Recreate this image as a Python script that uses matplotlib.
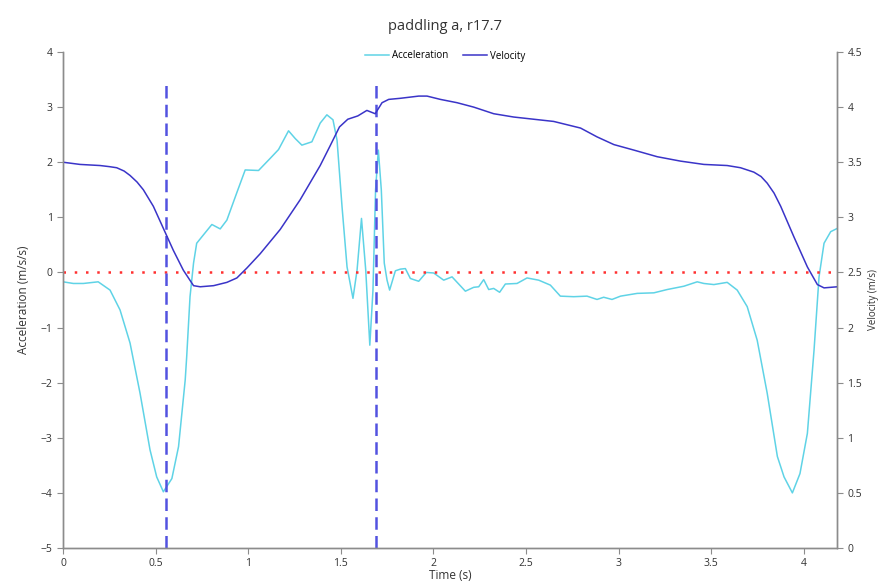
import matplotlib
matplotlib.use("Agg")
import matplotlib.pyplot as plt

# acceleration trace (m/s/s)
acc_t = [0.00, 0.056, 0.11, 0.19, 0.254, 0.308, 0.362, 0.416, 0.47, 0.506,
         0.542, 0.588, 0.624, 0.66, 0.668, 0.686, 0.705, 0.722, 0.758, 0.804,
         0.849, 0.885, 0.939, 0.984, 1.056, 1.119, 1.164, 1.218, 1.254, 1.29,
         1.344, 1.389, 1.425, 1.458, 1.48, 1.507, 1.534, 1.566, 1.588, 1.612,
         1.635, 1.657, 1.674, 1.688, 1.703, 1.719, 1.735, 1.75, 1.764, 1.795,
         1.822, 1.849, 1.876, 1.921, 1.962, 2.002, 2.056, 2.101, 2.173, 2.218,
         2.245, 2.272, 2.299, 2.326, 2.358, 2.389, 2.452, 2.506, 2.569, 2.632,
         2.686, 2.758, 2.83, 2.884, 2.92, 2.965, 3.011, 3.101, 3.191, 3.263,
         3.353, 3.425, 3.461, 3.515, 3.587, 3.641, 3.695, 3.749, 3.803, 3.858,
         3.894, 3.939, 3.98, 4.02, 4.056, 4.083, 4.11, 4.146, 4.182]
acc = [-0.17, -0.20, -0.20, -0.17, -0.32, -0.68, -1.28, -2.19, -3.22, -3.71,
       -3.98, -3.74, -3.16, -1.95, -1.53, -0.44, 0.17, 0.53, 0.68, 0.87,
       0.79, 0.95, 1.45, 1.86, 1.85, 2.07, 2.23, 2.57, 2.43, 2.31,
       2.37, 2.71, 2.86, 2.77, 2.40, 1.19, 0.10, -0.47, 0.04, 0.98,
       0.04, -1.32, -0.32, 1.50, 2.22, 1.50, 0.17, -0.14, -0.32, 0.03,
       0.06, 0.07, -0.11, -0.16, 0.00, -0.01, -0.14, -0.08, -0.34, -0.27,
       -0.26, -0.13, -0.31, -0.29, -0.36, -0.21, -0.20, -0.10, -0.14, -0.23,
       -0.43, -0.44, -0.43, -0.49, -0.45, -0.49, -0.43, -0.38, -0.37, -0.31,
       -0.25, -0.17, -0.20, -0.22, -0.18, -0.32, -0.62, -1.23, -2.19, -3.34,
       -3.71, -4.00, -3.65, -2.92, -1.41, -0.08, 0.53, 0.74, 0.80]

# velocity trace (m/s)
vel_t = [0.0, 0.092, 0.2, 0.25, 0.29, 0.33, 0.362, 0.40, 0.434, 0.488,
         0.542, 0.596, 0.65, 0.705, 0.741, 0.813, 0.885, 0.939, 0.993, 1.065,
         1.173, 1.281, 1.389, 1.443, 1.493, 1.538, 1.592, 1.641, 1.686, 1.723,
         1.759, 1.822, 1.921, 1.966, 2.038, 2.128, 2.218, 2.326, 2.434, 2.542,
         2.65, 2.795, 2.884, 2.975, 3.083, 3.209, 3.335, 3.461, 3.587, 3.659,
         3.731, 3.77, 3.803, 3.84, 3.876, 3.948, 4.02, 4.074, 4.11, 4.182]
vel = [3.50, 3.48, 3.47, 3.46, 3.45, 3.42, 3.38, 3.32, 3.25, 3.10,
       2.90, 2.70, 2.52, 2.38, 2.37, 2.38, 2.41, 2.45, 2.54, 2.67,
       2.89, 3.16, 3.47, 3.65, 3.82, 3.89, 3.92, 3.97, 3.94, 4.04,
       4.07, 4.08, 4.10, 4.10, 4.07, 4.04, 4.00, 3.94, 3.91, 3.89,
       3.87, 3.81, 3.73, 3.66, 3.61, 3.55, 3.51, 3.48, 3.47, 3.45,
       3.41, 3.37, 3.31, 3.22, 3.10, 2.82, 2.55, 2.39, 2.36, 2.37]

# stroke markers
marks = [0.557, 1.69]

acc_ticks = [-5, -4, -3, -2, -1, 0, 1, 2, 3, 4]
vel_ticks = [0, 0.5, 1, 1.5, 2, 2.5, 3, 3.5, 4, 4.5]
time_ticks = [0, 0.5, 1, 1.5, 2, 2.5, 3, 3.5, 4]

plt.rcParams['font.family'] = ['Open Sans', 'DejaVu Sans']
grey = '#8c8c8c'

fig = plt.figure(figsize=(8.83, 5.86), dpi=100)
ax = fig.add_axes([63/883, 38/586, (837-63)/883, (548-52)/586])
ax2 = ax.twinx()

l1, = ax.plot(acc_t, acc, color='#5fd3e6', lw=1.1, label='Acceleration')
l2, = ax2.plot(vel_t, vel, color='#3a34c8', lw=1.1, label='Velocity')

ax.axhline(0, color='#ff3030', lw=1.8, ls=(0, (1, 3.5)))
for m in marks:
    ax.plot([m, m], [-5, 3.5], color='#5252e0', lw=1.8, ls=(0, (5, 2.5)))

ax.set_xlim(0, 4.18)
ax.set_ylim(-5, 4)
ax2.set_ylim(0, 4.5)
ax.set_xticks(time_ticks)
ax.set_xticklabels([f'{t:g}' for t in time_ticks])
ax.set_yticks(acc_ticks)
ax2.set_yticks(vel_ticks)
ax2.set_yticklabels([f'{v:g}' for v in vel_ticks])

for a in (ax, ax2):
    a.spines['top'].set_visible(False)
    for s in ('left', 'right', 'bottom'):
        a.spines[s].set_color(grey)
        a.spines[s].set_linewidth(1.0)
    a.tick_params(colors=grey, labelcolor='#333333', labelsize=7.5, length=4, width=0.8)

ax.set_xlabel('Time (s)', fontsize=8.5, color='#333333', labelpad=0)
ax.set_ylabel('Acceleration (m/s/s)', fontsize=8.5, color='#333333', labelpad=8)
ax2.set_ylabel('Velocity (m/s)', fontsize=7, color='#333333', labelpad=4)

fig.text(445/883, 1 - 27/586, 'paddling a, r17.7', ha='center', va='center',
         fontsize=10.5, color='#333333')
fig.legend([l1, l2], ['Acceleration', 'Velocity'], loc='center', ncol=2,
           bbox_to_anchor=(445/883, 1 - 56/586), frameon=False, fontsize=7,
           handlelength=2.5, handletextpad=0.3, columnspacing=1.5)

fig.savefig('out.png', dpi=100)
